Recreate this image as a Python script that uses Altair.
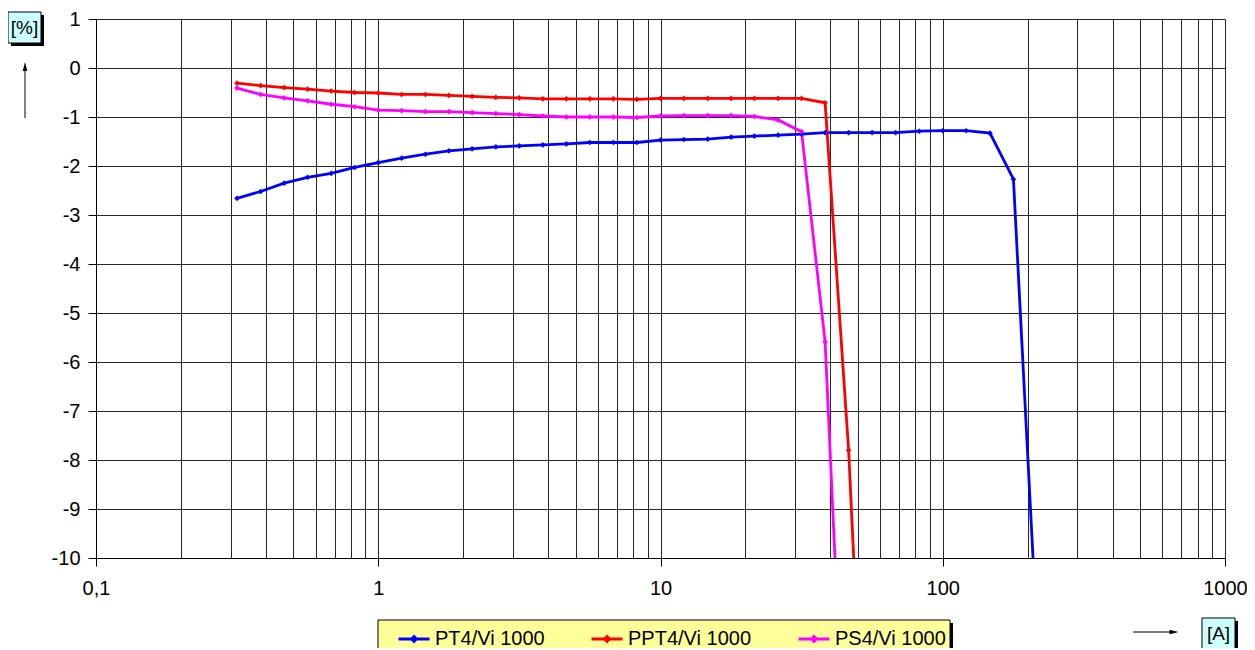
import altair as alt
import pandas as pd

# ---------------- data ----------------
x_values = [0.316, 0.383, 0.464, 0.562, 0.681, 0.825, 1.0, 1.21, 1.47, 1.78,
            2.15, 2.61, 3.16, 3.83, 4.64, 5.62, 6.81, 8.25, 10.0, 12.1,
            14.7, 17.8, 21.5, 26.1, 31.6, 38.3, 46.4, 56.2, 68.1, 82.5,
            100.0, 121.0, 147.0, 178.0, 215.0]

pt4_vi = [-2.66, -2.52, -2.35, -2.23, -2.15, -2.03, -1.93, -1.84, -1.76, -1.69,
          -1.65, -1.61, -1.59, -1.57, -1.55, -1.52, -1.52, -1.52, -1.47, -1.46,
          -1.45, -1.41, -1.39, -1.37, -1.35, -1.32, -1.32, -1.32, -1.32, -1.29,
          -1.28, -1.28, -1.33, -2.27, -11.4]

ppt4_vi = [-0.31, -0.36, -0.40, -0.43, -0.47, -0.50, -0.51, -0.54, -0.54, -0.56,
           -0.58, -0.60, -0.61, -0.63, -0.63, -0.63, -0.63, -0.64, -0.62, -0.62,
           -0.62, -0.62, -0.62, -0.62, -0.62, -0.71, -7.80, -18.0]

ps4_vi = [-0.41, -0.54, -0.61, -0.67, -0.74, -0.79, -0.86, -0.87, -0.89, -0.89,
          -0.91, -0.93, -0.95, -0.98, -1.00, -1.00, -1.00, -1.01, -0.98, -0.97,
          -0.97, -0.97, -0.99, -1.06, -1.30, -5.59, -16.1]

series_names = ["PT4/Vi 1000", "PPT4/Vi 1000", "PS4/Vi 1000"]
series_colors = ["#0000FF", "#FF0000", "#FF00FF"]

x_grid_values = [0.1, 0.2, 0.3, 0.4, 0.5, 0.6, 0.7, 0.8, 0.9,
                 1, 2, 3, 4, 5, 6, 7, 8, 9,
                 10, 20, 30, 40, 50, 60, 70, 80, 90,
                 100, 200, 300, 400, 500, 600, 700, 800, 900, 1000]
x_label_values = [0.1, 1, 10, 100, 1000]
y_tick_values = [-10, -9, -8, -7, -6, -5, -4, -3, -2, -1, 0, 1]

rows = []
for name, ys in zip(series_names, [pt4_vi, ppt4_vi, ps4_vi]):
    for i, y in enumerate(ys):
        rows.append({"series": name, "x": x_values[i], "y": y, "order": i})
df = pd.DataFrame(rows)

# ---------------- chart ----------------
W, H = 1129, 539
FONT = "Liberation Sans"

decades = "[" + ",".join(str(v) for v in x_label_values) + "]"
x_axis = alt.Axis(
    values=x_grid_values,
    grid=True, gridColor="black", gridOpacity=0.85, gridWidth=1,
    tickSize=8, tickColor="black",
    tickOpacity={"condition": {"test": f"indexof({decades}, datum.value) >= 0", "value": 1}, "value": 0},
    labelExpr=f"indexof({decades}, datum.value) >= 0 ? replace(datum.value + '', '.', ',') : ''",
    labelOverlap=False, labelFlush=False, labelBound=False,
    labelPadding=12, labelFont=FONT, labelFontSize=20, labelColor="black",
    domainColor="black", title=None, orient="bottom",
)
y_axis = alt.Axis(
    values=y_tick_values,
    grid=True, gridColor="black", gridOpacity=0.85, gridWidth=1,
    tickSize=8, tickColor="black",
    labelExpr="datum.value + ''",
    labelPadding=8, labelFont=FONT, labelFontSize=20, labelColor="black",
    labelOverlap=False,
    domainColor="black", title=None,
)

xs = alt.Scale(type="log", domain=[0.1, 1000], nice=False)
ys_ = alt.Scale(domain=[-10, 1], nice=False, zero=False)

color = alt.Color(
    "series:N",
    sort=series_names,
    scale=alt.Scale(domain=series_names, range=series_colors),
    legend=alt.Legend(
        title=None, orient="none", legendX=301, legendY=603,
        direction="horizontal", columns=3, columnPadding=40,
        labelFont=FONT, labelFontSize=20, labelColor="black", labelOffset=4,
        symbolType="M-1,0L1,0M0,-0.15L0.15,0L0,0.15L-0.15,0Z",
        symbolSize=961, symbolStrokeWidth=3, padding=0,
    ),
)

base = alt.Chart(df)
lines = base.mark_line(strokeWidth=2.8, clip=True).encode(
    x=alt.X("x:Q", scale=xs, axis=x_axis),
    y=alt.Y("y:Q", scale=ys_, axis=y_axis),
    color=color,
    order="order:Q",
)
points = base.mark_point(shape="diamond", filled=True, size=32, opacity=1, clip=True).encode(
    x=alt.X("x:Q", scale=xs),
    y=alt.Y("y:Q", scale=ys_),
    color=color,
)

one = alt.Data(values=[{"a": 1}])


def rect(x, x2, y, y2, fill, stroke=None):
    kw = {"fill": fill}
    if stroke:
        kw.update(stroke=stroke, strokeWidth=1)
    return alt.Chart(one).mark_rect(**kw).encode(
        x=alt.value(x), x2=alt.value(x2), y=alt.value(y), y2=alt.value(y2))


def label(x, y, t):
    return alt.Chart(one).mark_text(font=FONT, fontSize=19, color="black",
                                    align="center", baseline="middle").encode(
        x=alt.value(x), y=alt.value(y), text=alt.value(t))


def rule(x, x2, y, y2):
    return alt.Chart(one).mark_rule(color="black", strokeWidth=1).encode(
        x=alt.value(x), x2=alt.value(x2), y=alt.value(y), y2=alt.value(y2))


def head(x, y, path):
    return alt.Chart(one).mark_point(shape=path, size=80, filled=True,
                                     color="black", opacity=1).encode(
        x=alt.value(x), y=alt.value(y))


decor = [
    # legend box with shadow
    rect(285, 857, 604, 640, "black"),
    rect(282, 854, 601, 640, "#FFFF99", "black"),
    # [%] box
    rect(-85, -52, -4, 27, "black"),
    rect(-88, -55, -7, 24, "#CCFFFF", "black"),
    label(-71.5, 9, "[%]"),
    rule(-71, -71, 51, 99),
    head(-71, 47.5, "M0,-1L0.5,1L-0.5,1Z"),
    # [A] box
    rect(1109, 1142, 602, 640, "black"),
    rect(1106, 1139, 599, 640, "#CCFFFF", "black"),
    label(1122.5, 615, "[A]"),
    rule(1037, 1076, 613, 613),
    head(1078, 613, "M1,0L-1,0.5L-1,-0.5Z"),
]

chart = alt.layer(lines, points, *decor).properties(
    width=W, height=H,
    autosize=alt.AutoSizeParams(type="none"),
    padding={"left": 88, "top": 11, "right": 22, "bottom": 90},
).configure_view(stroke=None)

chart.save("out.html", embed_options={"renderer": "svg", "actions": False})
